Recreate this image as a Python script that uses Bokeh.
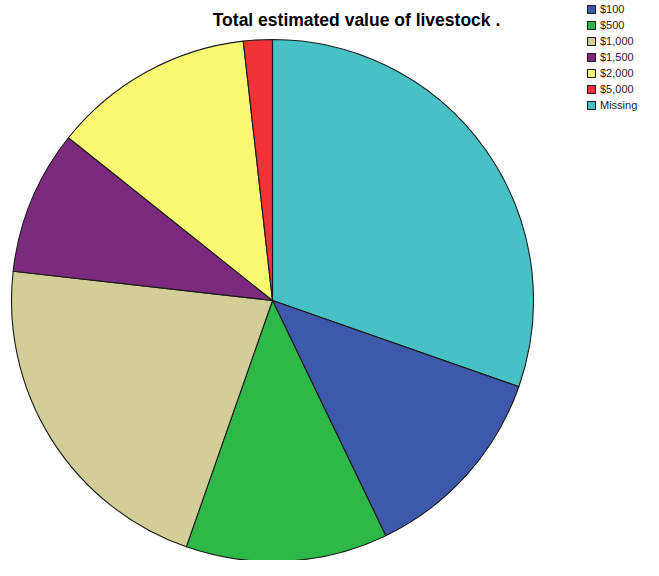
import numpy as np
from bokeh.plotting import figure
from bokeh.models import Range1d, Legend, LegendItem, Label, ColumnDataSource
from bokeh.embed import file_html
from bokeh.resources import INLINE

categories = ["$100", "$500", "$1,000", "$1,500", "$2,000", "$5,000", "Missing"]
counts = [7, 7, 12, 5, 7, 1, 17]
colors = ["#3E58AC", "#2EB848", "#D3CE97", "#7B2A7E", "#FBF873", "#EF3338", "#48C1C6"]
title_text = "Total estimated value of livestock ."

W, H = 643, 560
p = figure(width=W, height=H, output_backend="svg", toolbar_location=None,
           x_range=Range1d(0, W), y_range=Range1d(0, H), min_border=0)
p.axis.visible = False
p.grid.visible = False
p.outline_line_color = None
p.background_fill_color = "white"

# SPSS order: Missing first starting at 12 o'clock clockwise, then $100...
order = [6, 0, 1, 2, 3, 4, 5]
vals = np.array([counts[i] for i in order], dtype=float)
frac = vals / vals.sum()
cum = np.concatenate([[0], np.cumsum(frac)])
start = np.pi / 2 - cum[1:] * 2 * np.pi
end = np.pi / 2 - cum[:-1] * 2 * np.pi

cx, cy, r = 272, H - 300, 261
renderers = {}
for k, i in enumerate(order):
    src = ColumnDataSource(dict(x=[cx], y=[cy], s=[start[k]], e=[end[k]]))
    rr = p.wedge(x="x", y="y", radius=r, start_angle="s", end_angle="e", source=src,
                 fill_color=colors[i], line_color="#1a1a1a", line_width=1.1)
    renderers[i] = rr

n = len(categories)
lh, sp = 11, 4
leg_h = n * lh + (n - 1) * sp
items = [LegendItem(label=categories[i], renderers=[renderers[i]]) for i in range(n)]
legend = Legend(items=items, location=(586, H - 10 - leg_h), orientation="vertical",
                glyph_width=10, glyph_height=10, label_height=lh, spacing=sp,
                label_standoff=4, padding=0, margin=0,
                label_text_font="Liberation Sans", label_text_font_size="11px",
                label_text_color="#222222", border_line_color=None,
                background_fill_alpha=0)
p.add_layout(legend, "center")

title = Label(x=356, y=H - 19, text=title_text, text_align="center", text_baseline="middle",
              text_font="Liberation Sans", text_font_style="bold", text_font_size="17.5px",
              text_color="black")
p.add_layout(title)

open("out.html", "w").write(file_html(p, INLINE))
